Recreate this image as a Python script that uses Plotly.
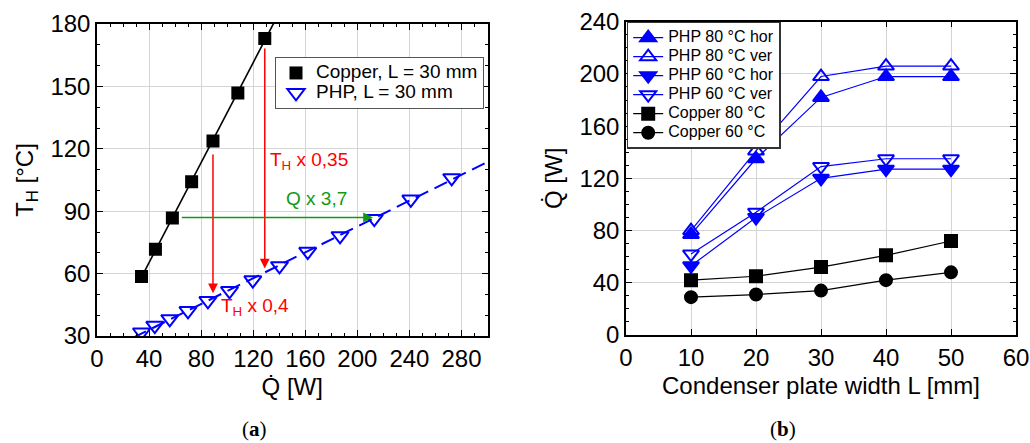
import numpy as np
import plotly.graph_objects as go

# ---------- data: panel (a) ----------
copper_q = [34.2, 44.9, 57.9, 72.7, 89.1, 108.2, 128.9]
copper_t = [58.6, 71.7, 86.7, 104.1, 123.8, 146.8, 173.0]
php_q = [34.2, 44.4, 55.9, 69.9, 85.2, 101.8, 119.7, 140.2, 161.9, 186.7, 213.0, 241.1, 272.5]
php_t = [31.8, 35.0, 38.2, 42.1, 46.9, 51.7, 56.9, 63.7, 70.6, 78.1, 86.4, 95.7, 106.0]

# ---------- data: panel (b) ----------
width_L = [10, 20, 30, 40, 50]
php80_hor = [77, 135, 182, 198, 198]
php80_ver = [80, 141, 198, 206, 206]
php60_hor = [53, 90, 120, 127, 127]
php60_ver = [62, 94, 129, 135, 135]
cu80 = [42, 45, 52, 61, 72]
cu60 = [29, 31, 34, 42, 48]

FONT = "Liberation Sans"
BLUE = "#0000ff"
RED = "#ff0000"
GREEN = "#109a10"


def big(txt, px):
    return f"<span style='font-size:{px}px'>{txt}</span>"


fig = go.Figure()

# fit lines (panel a) derived from data
c_fit = np.polyfit(copper_q, copper_t, 1)
cx = np.array([33.0, 140.0])
fig.add_trace(go.Scatter(x=cx, y=np.polyval(c_fit, cx), mode="lines",
                         line=dict(color="black", width=1.6), showlegend=False,
                         xaxis="x", yaxis="y"))
p_fit = np.polyfit(php_q, php_t, 1)
px_ = np.array([28.0, 300.0])
fig.add_trace(go.Scatter(x=px_, y=np.polyval(p_fit, px_), mode="lines",
                         line=dict(color=BLUE, width=2, dash="14px,7px"), showlegend=False,
                         xaxis="x", yaxis="y"))

fig.add_trace(go.Scatter(x=copper_q, y=copper_t, mode="markers", name=big("Copper, L = 30 mm", 19),
                         marker=dict(symbol="square", size=13, color="black"),
                         xaxis="x", yaxis="y", legend="legend"))
fig.add_trace(go.Scatter(x=php_q, y=php_t, mode="markers", name=big("PHP, L = 30 mm", 19),
                         marker=dict(symbol="triangle-down-open", size=15, color=BLUE,
                                     line=dict(width=2, color=BLUE)),
                         xaxis="x", yaxis="y", legend="legend"))

# panel b traces
series_b = [
    ("PHP 80 °C hor", php80_hor, "triangle-up", BLUE, 14),
    ("PHP 80 °C ver", php80_ver, "triangle-up-open", BLUE, 14),
    ("PHP 60 °C hor", php60_hor, "triangle-down", BLUE, 14),
    ("PHP 60 °C ver", php60_ver, "triangle-down-open", BLUE, 14),
    ("Copper 80 °C", cu80, "square", "black", 12),
    ("Copper 60 °C", cu60, "circle", "black", 12),
]
for name, vals, sym, col, sz in series_b:
    fig.add_trace(go.Scatter(x=width_L, y=vals, mode="lines+markers", name=big(name, 16),
                             line=dict(color=col, width=1.2),
                             marker=dict(symbol=sym, size=sz, color=col,
                                         line=dict(width=2, color=col)),
                             xaxis="x2", yaxis="y2", legend="legend2"))

axis_common = dict(
    showline=True, linecolor="black", linewidth=1.5, mirror="allticks",
    ticks="inside", ticklen=6, tickwidth=1, tickcolor="black",
    showgrid=True, gridcolor="#d4d4d4", gridwidth=1,
    tickfont=dict(family=FONT, size=24, color="black"),
    zeroline=False, automargin=False,
)

fig.update_layout(
    width=1030, height=443,
    margin=dict(l=0, r=0, t=0, b=0),
    paper_bgcolor="white", plot_bgcolor="white",
    font=dict(family=FONT, color="black"),
    xaxis=dict(domain=[97/1030, 487.5/1030], anchor="y", range=[0, 300], tick0=0, dtick=40,
               minor=dict(dtick=10, ticks="inside", ticklen=3, tickcolor="black", showgrid=False),
               title=dict(text="Q\u0307 [W]", font=dict(family=FONT, size=24), standoff=8),
               **axis_common),
    yaxis=dict(domain=[1-336/443, 1-24/443], anchor="x", range=[30, 180], tick0=30, dtick=30,
               minor=dict(dtick=10, ticks="inside", ticklen=3, tickcolor="black", showgrid=False),
               title=dict(text="T<sub>H</sub> [°C]", font=dict(family=FONT, size=24), standoff=10),
               **axis_common),
    xaxis2=dict(domain=[626/1030, 1016/1030], anchor="y2", range=[0, 60], tick0=0, dtick=10,
                title=dict(text="Condenser plate width L [mm]", font=dict(family=FONT, size=24), standoff=8),
                **axis_common),
    yaxis2=dict(domain=[1-335/443, 1-21.7/443], anchor="x2", range=[0, 240], tick0=0, dtick=40,
                minor=dict(dtick=10, ticks="inside", ticklen=3, tickcolor="black", showgrid=False),
                title=dict(text="Q\u0307 [W]", font=dict(family=FONT, size=24), standoff=10),
                **axis_common),
    legend=dict(x=275/1030, y=1-57/443, xanchor="left", yanchor="top",
                bgcolor="white", bordercolor="#555555", borderwidth=1,
                font=dict(family=FONT, size=13, color="black"), tracegroupgap=0),
    legend2=dict(x=626.7/1030, y=1-21.7/443, xanchor="left", yanchor="top",
                 bgcolor="white", bordercolor="#333333", borderwidth=1.5,
                 font=dict(family=FONT, size=12, color="black"), tracegroupgap=0),
)

# arrows (panel a)
arrows = [
    (89.1, 118.0, 89.1, 50.5, RED),
    (128.9, 169.0, 128.9, 62.5, RED),
    (64.0, 87.0, 212.0, 87.0, GREEN),
]
for x0, y0, x1, y1, col in arrows:
    fig.add_annotation(x=x1, y=y1, ax=x0, ay=y0, xref="x", yref="y", axref="x", ayref="y",
                       showarrow=True, arrowhead=2, arrowsize=1.3, arrowwidth=1.5,
                       arrowcolor=col, text="")

labels = [
    ("T<sub>H</sub> x 0,35", 131.5, 114.0, RED),
    ("Q x 3,7", 144.0, 96.0, GREEN),
    ("T<sub>H</sub> x 0,4", 94.0, 44.0, RED),
]
for txt, x, y, col in labels:
    fig.add_annotation(x=x, y=y, xref="x", yref="y", text=txt, showarrow=False,
                       xanchor="left", yanchor="middle",
                       font=dict(family=FONT, size=19, color=col))

# captions
for txt, x in [("(<b>a</b>)", 254/1030), ("(<b>b</b>)", 783/1030)]:
    fig.add_annotation(x=x, y=1-429/443, xref="paper", yref="paper", text=txt, showarrow=False,
                       xanchor="center", yanchor="middle",
                       font=dict(family="Liberation Serif", size=21, color="black"))

fig.write_html("out.html")
